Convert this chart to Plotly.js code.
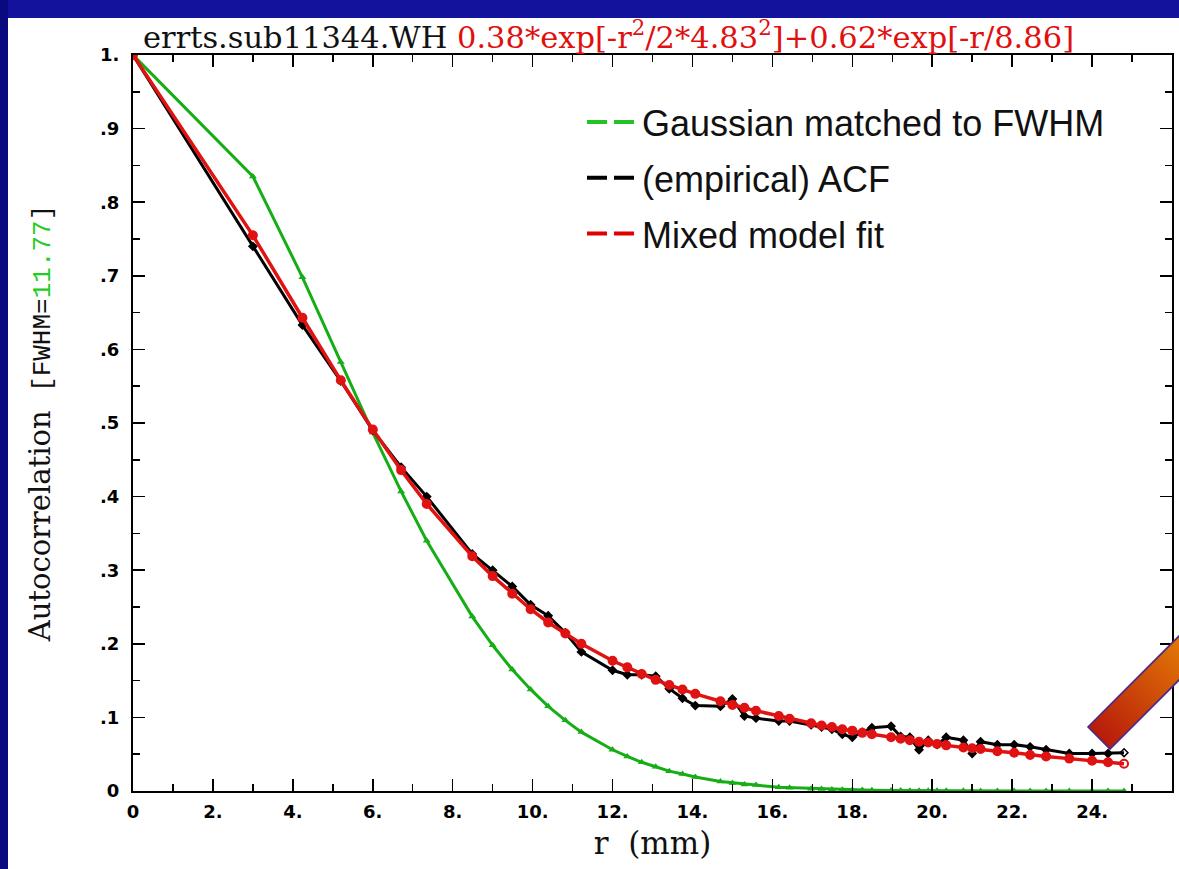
<!DOCTYPE html>
<html><head><meta charset="utf-8">
<script src="https://cdn.plot.ly/plotly-3.0.1.min.js"></script>
<style>html,body{margin:0;padding:0;background:#fff;}#chart{width:1179px;height:869px;}</style>
</head><body><div id="chart"></div>
<script>
// ---- data ----
const r = [0, 3, 4.24, 5.2, 6, 6.71, 7.35, 8.49, 9.0, 9.49, 9.95, 10.39, 10.82, 11.22, 12.0,
  12.37, 12.73, 13.08, 13.42, 13.75, 14.07, 14.7, 15.0, 15.3, 15.59, 16.16, 16.43, 16.97, 17.23,
  17.49, 17.75, 18.0, 18.25, 18.49, 18.97, 19.21, 19.44, 19.67, 19.9, 20.12, 20.35, 20.78, 21.0,
  21.21, 21.63, 22.05, 22.45, 22.85, 23.43, 24.0, 24.4, 24.8];
const gaussianFWHM = [1.0, 0.835, 0.698, 0.583, 0.487, 0.407, 0.340, 0.237, 0.198, 0.165, 0.138,
  0.115, 0.096, 0.080, 0.056, 0.047, 0.039, 0.033, 0.027, 0.023, 0.019, 0.013, 0.011, 0.009, 0.008,
  0.005, 0.0045, 0.003, 0.0026, 0.0022, 0.0018, 0.0015, 0.0013, 0.0011, 0.0007, 0.0006, 0.0005,
  0.0004, 0.0004, 0.0003, 0.0003, 0.0002, 0.0001, 0.0001, 0.0001, 0.0001, 0, 0, 0, 0, 0, 0];
const empiricalACF = [1.0, 0.74, 0.633, 0.557, 0.49, 0.44, 0.40, 0.322, 0.300, 0.278, 0.253, 0.238,
  0.215, 0.189, 0.164, 0.158, 0.158, 0.156, 0.139, 0.126, 0.116, 0.115, 0.125, 0.102, 0.099, 0.095,
  0.095, 0.090, 0.087, 0.084, 0.077, 0.073, 0.080, 0.086, 0.088, 0.074, 0.073, 0.056, 0.069, 0.063,
  0.073, 0.069, 0.051, 0.067, 0.063, 0.063, 0.060, 0.056, 0.051, 0.051, 0.051, 0.052];
const mixedModel = [1.0, 0.755, 0.643, 0.558, 0.491, 0.436, 0.390, 0.319, 0.292, 0.268, 0.247, 0.229,
  0.214, 0.200, 0.177, 0.168, 0.159, 0.151, 0.144, 0.138, 0.132, 0.122, 0.117, 0.113, 0.109, 0.102,
  0.098, 0.092, 0.089, 0.087, 0.084, 0.082, 0.079, 0.077, 0.073, 0.071, 0.069, 0.067, 0.066, 0.064,
  0.062, 0.059, 0.058, 0.057, 0.054, 0.052, 0.049, 0.047, 0.044, 0.041, 0.039, 0.037];
const xTickVals = [0, 2, 4, 6, 8, 10, 12, 14, 16, 18, 20, 22, 24, 26];
const xTickText = ['0', '2.', '4.', '6.', '8.', '10.', '12.', '14.', '16.', '18.', '20.', '22.', '24.', '26'];
const yTickVals = [0, 0.1, 0.2, 0.3, 0.4, 0.5, 0.6, 0.7, 0.8, 0.9, 1.0];
const yTickText = ['0', '.1', '.2', '.3', '.4', '.5', '.6', '.7', '.8', '.9', '1.'];
const legendNames = ['Gaussian matched to FWHM', '(empirical) ACF', 'Mixed model fit'];
const titleName = 'errts.sub11344.WH';
const titleFormula = '0.38*exp[-r<sup>2</sup>/2*4.83<sup>2</sup>]+0.62*exp[-r/8.86]';
const fwhmValue = '11.77';

// ---- styling / layout ----
const W = 1179, H = 869, L = 133, R = 1172, T = 55, B = 791;
const PX = p => (p - L) / (R - L);
const PY = p => (B - p) / (B - T);
const GREEN = '#16ad16', RED = '#e01212', BLACK = '#000000';

function syms(n, base, last) { return r.map((_, i) => i === n - 1 ? last : base); }

const traces = [
  { x: r, y: gaussianFWHM, mode: 'lines+markers', showlegend: false,
    line: { color: GREEN, width: 3 }, marker: { color: GREEN, size: 7, symbol: 'triangle-up' } },
  { x: r, y: empiricalACF, mode: 'lines+markers', showlegend: false,
    line: { color: BLACK, width: 3 },
    marker: { color: BLACK, size: 6, symbol: syms(r.length, 'diamond', 'diamond-open'), line: { color: BLACK, width: 1.5 } } },
  { x: r, y: mixedModel, mode: 'lines+markers', showlegend: false,
    line: { color: RED, width: 3.5 },
    marker: { color: RED, size: 8, symbol: syms(r.length, 'circle', 'circle-open'), line: { color: RED, width: 2 } } }
];
const legendColors = ['#22c322', '#000000', '#e00000'];
legendNames.forEach((nm, i) => traces.push({
  x: [null], y: [null], mode: 'lines', name: nm, legendgroup: 'g' + i, showlegend: true,
  line: { color: legendColors[i], width: 4, dash: '20px,7px' }
}));

const arrowSvg = '<svg xmlns="http://www.w3.org/2000/svg" width="140" height="150" viewBox="0 0 140 150">' +
  '<defs><linearGradient id="g" x1="0" y1="1" x2="1" y2="0">' +
  '<stop offset="0" stop-color="#b20f0c"/><stop offset="1" stop-color="#ec8e04"/></linearGradient></defs>' +
  '<polygon points="18,117 40,139 140,39 118,17" fill="url(#g)" stroke="#4a2a88" stroke-width="1.6"/></svg>';

const axisCommon = {
  showgrid: false, zeroline: false, showline: true, linecolor: '#000', linewidth: 2,
  mirror: 'allticks', ticks: 'inside', ticklen: 12, tickwidth: 1.5, tickcolor: '#000',
  tickfont: { family: 'DejaVu Sans', size: 18, color: '#000', weight: 'bold' }, fixedrange: true
};

const layout = {
  width: W, height: H,
  margin: { l: L, r: W - R, t: T, b: H - B, pad: 0 },
  paper_bgcolor: '#ffffff', plot_bgcolor: '#ffffff',
  showlegend: true,
  legend: { x: PX(582), y: PY(92), xanchor: 'left', yanchor: 'top', bgcolor: 'rgba(0,0,0,0)',
    font: { family: 'Liberation Sans', size: 36, color: '#111' }, tracegroupgap: 6, itemwidth: 50 },
  xaxis: Object.assign({}, axisCommon, {
    range: [0, 26], tickmode: 'array', tickvals: xTickVals, ticktext: xTickText, ticklabelstandoff: 3,
    minor: { tickmode: 'linear', tick0: 0, dtick: 1, ticks: 'inside', ticklen: 7, tickwidth: 1.5, tickcolor: '#000' },
    title: { text: 'r  (mm)', font: { family: 'DejaVu Serif', size: 31, color: '#111' }, standoff: 12 }
  }),
  yaxis: Object.assign({}, axisCommon, {
    range: [0, 1], tickmode: 'array', tickvals: yTickVals, ticktext: yTickText, ticklabelstandoff: 8,
    minor: { tickmode: 'linear', tick0: 0, dtick: 0.05, ticks: 'inside', ticklen: 7, tickwidth: 1.5, tickcolor: '#000' },
    title: { text: 'Autocorrelation  <span style="font-family:\'Liberation Mono\';font-size:26px">[FWHM=<span style="fill:#22cc22">' + fwhmValue + '</span>]</span>',
      font: { family: 'DejaVu Serif', size: 29, color: '#111' }, standoff: 41 }
  }),
  annotations: [{
    xref: 'paper', yref: 'paper', x: PX(141), y: PY(35), xanchor: 'left', yanchor: 'middle', showarrow: false,
    text: titleName + ' <span style="fill:#e01010">' + titleFormula + '</span>',
    font: { family: 'DejaVu Serif', size: 30.5, color: '#111' }
  }],
  shapes: [
    { type: 'rect', xref: 'paper', yref: 'paper', x0: PX(0), x1: PX(W), y0: PY(18), y1: PY(0), line: { width: 0 }, fillcolor: '#12129c', layer: 'below' },
    { type: 'rect', xref: 'paper', yref: 'paper', x0: PX(0), x1: PX(8), y0: PY(H), y1: PY(0), line: { width: 0 }, fillcolor: '#0a0a80', layer: 'below' }
  ],
  images: [{
    source: 'data:image/svg+xml;charset=utf-8,' + encodeURIComponent(arrowSvg),
    xref: 'paper', yref: 'paper', x: PX(1070), y: PY(610), sizex: 140 / (R - L), sizey: 150 / (B - T),
    xanchor: 'left', yanchor: 'top', sizing: 'stretch', layer: 'above'
  }]
};

Plotly.newPlot('chart', traces, layout, { displayModeBar: false, staticPlot: true });
</script>
</body></html>
